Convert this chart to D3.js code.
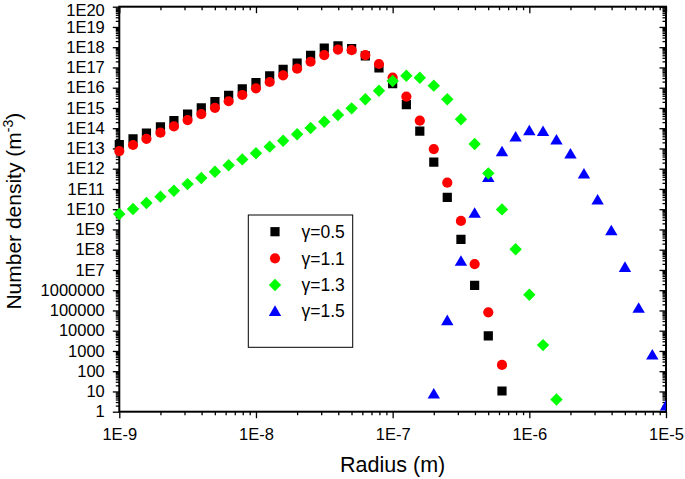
<!DOCTYPE html>
<html>
<head>
<meta charset="utf-8">
<script src="https://cdn.jsdelivr.net/npm/d3@7"></script>
<style>
  html, body { margin: 0; padding: 0; background: #fff; }
  svg { display: block; }
  text { font-family: "Liberation Sans", Arial, Helvetica, sans-serif; fill: #000; }
</style>
</head>
<body>
<svg id="chart" width="685" height="479"></svg>
<script>
// Radius grid (m), 10 points per decade
const radius = [
  1e-9, 1.26e-9, 1.58e-9, 2e-9, 2.51e-9, 3.16e-9, 3.98e-9, 5.01e-9, 6.31e-9, 7.94e-9,
  1e-8, 1.26e-8, 1.58e-8, 2e-8, 2.51e-8, 3.16e-8, 3.98e-8, 5.01e-8, 6.31e-8, 7.94e-8,
  1e-7, 1.26e-7, 1.58e-7, 2e-7, 2.51e-7, 3.16e-7, 3.98e-7, 5.01e-7, 6.31e-7, 7.94e-7,
  1e-6, 1.26e-6, 1.58e-6, 2e-6, 2.51e-6, 3.16e-6, 3.98e-6, 5.01e-6, 6.31e-6, 7.94e-6,
  1e-5
];

// Number density (m^-3) per series, starting at the given radius index
const gamma05 = [1.55e13, 2.95e13, 5.75e13, 1.17e14, 2.34e14, 4.9e14, 1.0e15, 2.04e15, 4.17e15, 8.71e15,
  1.78e16, 3.8e16, 8.13e16, 1.66e17, 3.98e17, 8.9e17, 1.15e18, 8.5e17, 3.7e17, 9.5e16,
  1.58e16, 1.45e15, 7.24e13, 2.09e12, 3.8e10, 3.24e8, 1.74e6, 5.6e3, 10.5];
const gamma11 = [7.4e12, 1.48e13, 3.0e13, 6.0e13, 1.23e14, 2.51e14, 5.0e14, 1.02e15, 2.14e15, 4.37e15,
  9.3e15, 1.91e16, 4.07e16, 8.7e16, 1.91e17, 4.07e17, 7.6e17, 7.1e17, 4.07e17, 1.48e17,
  3.16e16, 3.63e15, 2.34e14, 9.3e12, 2.04e11, 2.63e9, 1.95e7, 8.1e4, 204];
const gamma13 = [5.75e9, 1.02e10, 2.04e10, 4.17e10, 8.13e10, 1.74e11, 3.47e11, 7.08e11, 1.48e12, 2.88e12,
  5.75e12, 1.23e13, 2.4e13, 5.0e13, 1.02e14, 2.09e14, 4.47e14, 9.55e14, 2.69e15, 7.08e15,
  2.14e16, 3.89e16, 3.09e16, 1.26e16, 2.69e15, 2.75e14, 1.66e13, 5.9e11, 9.8e9, 1.05e8,
  6.0e5, 1.95e3, 4.0];
const gamma15 = [8.1, 3.39e4, 2.88e7, 6.76e9, 3.98e11, 7.4e12, 3.98e13, 8.1e13, 7.4e13, 2.82e13,
  5.75e12, 5.9e11, 3.09e10, 9.3e8, 1.45e7, 1.38e5, 676, 2.1];
const gamma15Start = 23;

const seriesNames = ["\u03b3=0.5", "\u03b3=1.1", "\u03b3=1.3", "\u03b3=1.5"];
const seriesColors = ["#000000", "#ff0000", "#00ff00", "#0000ff"];

const xTickValues = [1e-9, 1e-8, 1e-7, 1e-6, 1e-5];
const xTickLabels = ["1E-9", "1E-8", "1E-7", "1E-6", "1E-5"];
const yTickValues = [1, 10, 100, 1000, 1e4, 1e5, 1e6, 1e7, 1e8, 1e9, 1e10, 1e11, 1e12, 1e13, 1e14, 1e15, 1e16, 1e17, 1e18, 1e19, 1e20];
const yTickLabels = ["1", "10", "100", "1000", "10000", "100000", "1000000", "1E7", "1E8", "1E9", "1E10",
  "1E11", "1E12", "1E13", "1E14", "1E15", "1E16", "1E17", "1E18", "1E19", "1E20"];

// ---------- layout ----------
const L = 119.3, R = 666, T = 6.7, B = 411.7;
const svg = d3.select("#chart");
const x = d3.scaleLog().domain([1e-9, 1e-5]).range([L, R]);
const y = d3.scaleLog().domain([1, 1e20]).range([B, T]);

function minorTicks(lo, hi) {
  const out = [];
  for (let e = lo; e < hi; e++) for (let m = 2; m <= 9; m++) out.push(m * Math.pow(10, e));
  return out;
}
const xMinor = minorTicks(-9, -5);
const yMinor = minorTicks(0, 20);

const fontSize = "16.5px";

function styleAxis(g) {
  g.select(".domain").remove();
  g.selectAll("line").attr("stroke", "#000").attr("stroke-width", 1.3);
  g.selectAll("text").style("font-size", fontSize).attr("fill", "#000");
}

// bottom
svg.append("g").attr("transform", `translate(0,${B})`)
  .call(d3.axisBottom(x).tickValues(xMinor).tickSize(3.5).tickFormat(""))
  .call(styleAxis);
svg.append("g").attr("transform", `translate(0,${B})`)
  .call(d3.axisBottom(x).tickValues(xTickValues).tickSize(6.5).tickPadding(10)
    .tickFormat((d, i) => xTickLabels[i]))
  .call(styleAxis);
// top (inward)
svg.append("g").attr("transform", `translate(0,${T})`)
  .call(d3.axisTop(x).tickValues(xMinor).tickSize(-3.5).tickFormat(""))
  .call(styleAxis);
svg.append("g").attr("transform", `translate(0,${T})`)
  .call(d3.axisTop(x).tickValues(xTickValues).tickSize(-6.5).tickFormat(""))
  .call(styleAxis);
// left
svg.append("g").attr("transform", `translate(${L},0)`)
  .call(d3.axisLeft(y).tickValues(yMinor).tickSize(3.5).tickFormat(""))
  .call(styleAxis);
const yAxisG = svg.append("g").attr("transform", `translate(${L},0)`)
  .call(d3.axisLeft(y).tickValues(yTickValues).tickSize(6.5).tickPadding(8)
    .tickFormat((d, i) => yTickLabels[i]))
  .call(styleAxis);
// keep the top label inside the picture
yAxisG.selectAll(".tick").filter(d => d === 1e20).select("text").attr("dy", "0.52em");
// right (inward)
svg.append("g").attr("transform", `translate(${R},0)`)
  .call(d3.axisRight(y).tickValues(yMinor).tickSize(-3.5).tickFormat(""))
  .call(styleAxis);
svg.append("g").attr("transform", `translate(${R},0)`)
  .call(d3.axisRight(y).tickValues(yTickValues).tickSize(-6.5).tickFormat(""))
  .call(styleAxis);

// frame
svg.append("rect").attr("x", L).attr("y", T).attr("width", R - L).attr("height", B - T)
  .attr("fill", "none").attr("stroke", "#000").attr("stroke-width", 2);

// ---------- markers ----------
const shapes = {
  square: { draw(ctx) { const h = 4.6; ctx.rect(-h, -h, 2 * h, 2 * h); } },
  circle: { draw(ctx) { ctx.moveTo(5.1, 0); ctx.arc(0, 0, 5.1, 0, 2 * Math.PI); } },
  diamond: { draw(ctx) { const h = 6.2; ctx.moveTo(0, -h); ctx.lineTo(h, 0); ctx.lineTo(0, h); ctx.lineTo(-h, 0); ctx.closePath(); } },
  triangle: { draw(ctx) { ctx.moveTo(0, -5.4); ctx.lineTo(6.2, 5.2); ctx.lineTo(-6.2, 5.2); ctx.closePath(); } }
};
const seriesShapes = [shapes.square, shapes.circle, shapes.diamond, shapes.triangle];

const series = [
  { values: gamma05, start: 0, idx: 0 },
  { values: gamma11, start: 0, idx: 1 },
  { values: gamma13, start: 0, idx: 2 },
  { values: gamma15, start: gamma15Start, idx: 3 }
];
const drawOrder = [3, 0, 1, 2];

svg.append("clipPath").attr("id", "clip").append("rect")
  .attr("x", L - 8).attr("y", T).attr("width", R - L + 8).attr("height", B - T + 8);

const plot = svg.append("g").attr("clip-path", "url(#clip)");
drawOrder.forEach(si => {
  const s = series[si];
  const pts = s.values.map((v, i) => ({ r: radius[s.start + i], v }));
  plot.append("g").selectAll("path").data(pts).join("path")
    .attr("transform", d => `translate(${x(d.r)},${y(d.v)})`)
    .attr("d", d3.symbol().type(seriesShapes[s.idx])())
    .attr("fill", seriesColors[s.idx]);
});

// ---------- legend ----------
const lg = svg.append("g");
lg.append("rect").attr("x", 248.3).attr("y", 215).attr("width", 104.4).attr("height", 132.3)
  .attr("fill", "#fff").attr("stroke", "#000").attr("stroke-width", 1);
const rowY = [231.7, 258.3, 285, 310.7];
seriesNames.forEach((name, i) => {
  lg.append("path").attr("transform", `translate(275,${rowY[i]})`)
    .attr("d", d3.symbol().type(seriesShapes[i])()).attr("fill", seriesColors[i]);
  lg.append("text").attr("x", 301.5).attr("y", rowY[i]).attr("dy", "0.36em")
    .style("font-size", "17.5px").text(name);
});

// ---------- titles ----------
svg.append("text").attr("x", (L + R) / 2).attr("y", 472).attr("text-anchor", "middle")
  .style("font-size", "21.5px").text("Radius (m)");

const yt = svg.append("text").attr("transform", `translate(20.7,${(T + B) / 2 + 2}) rotate(-90)`)
  .attr("text-anchor", "middle").style("font-size", "21px");
yt.append("tspan").text("Number density (m");
yt.append("tspan").attr("dy", -8).style("font-size", "14px").text("-3");
yt.append("tspan").attr("dy", 8).text(")");
</script>
</body>
</html>
